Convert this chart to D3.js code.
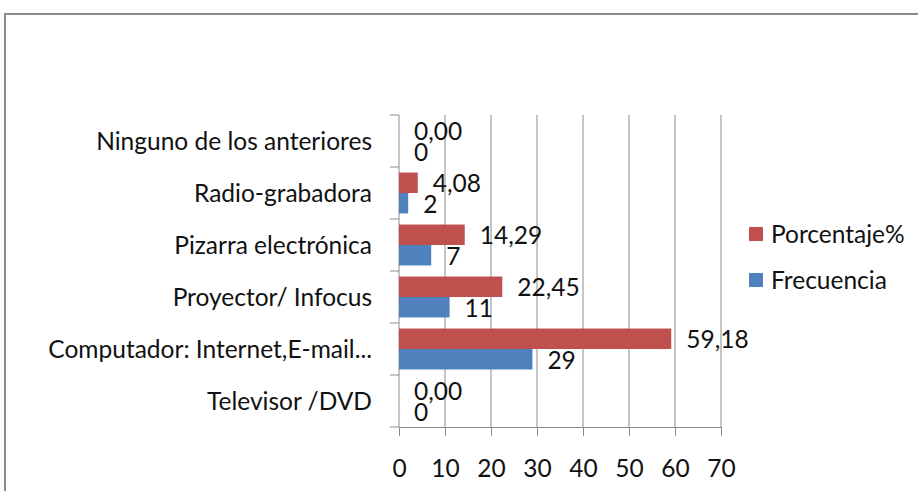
<!DOCTYPE html>
<html>
<head>
<meta charset="utf-8">
<script src="https://cdn.jsdelivr.net/npm/d3@7"></script>
<style>
  body { margin: 0; background: #fff; }
  text { font-family: Lato, "Open Sans", sans-serif; fill: #111; }
</style>
</head>
<body>
<script>
// categories, top to bottom as drawn
let categories = ["Ninguno de los anteriores", "Radio-grabadora", "Pizarra electrónica",
                  "Proyector/ Infocus", "Computador: Internet,E-mail...", "Televisor /DVD"];
let porcentaje = [0, 4.08, 14.29, 22.45, 59.18, 0];
let frecuencia = [0, 2, 7, 11, 29, 0];
let porcentajeLabels = ["0,00", "4,08", "14,29", "22,45", "59,18", "0,00"];
let frecuenciaLabels = ["0", "2", "7", "11", "29", "0"];
let xTicks = [0, 10, 20, 30, 40, 50, 60, 70];
let seriesNames = ["Porcentaje%", "Frecuencia"];

let W = 918, H = 491;
let svg = d3.select("body").append("svg")
  .attr("width", W)
  .attr("height", H);

// outer frame (runs off right/bottom like the original)
svg.append("rect")
  .attr("x", 5).attr("y", 14)
  .attr("width", W + 10).attr("height", H + 10)
  .attr("fill", "none")
  .attr("stroke", "#8a8a8a")
  .attr("stroke-width", 2);

let x = d3.scaleLinear().domain([0, 70]).range([399, 721]);
let y = d3.scaleBand().domain(categories).range([115, 427]);
let inner = d3.scaleBand().domain(seriesNames).range([0, y.bandwidth()]).paddingOuter(0.27);

let fontSize = 24.5;

// gridlines
svg.append("g")
  .selectAll("line")
  .data(xTicks.slice(1))
  .join("line")
  .attr("x1", d => x(d)).attr("x2", d => x(d))
  .attr("y1", 115).attr("y2", 427)
  .attr("stroke", "#8c8c8c");

// x axis
let xAxis = svg.append("g")
  .attr("transform", "translate(0,427)")
  .call(d3.axisBottom(x).tickValues(xTicks).tickSize(9).tickPadding(24).tickFormat(d3.format("d")));
xAxis.select(".domain").attr("stroke", "#8c8c8c");
xAxis.selectAll(".tick line").attr("stroke", "#8c8c8c");
xAxis.selectAll("text").attr("font-size", fontSize).attr("font-family", "Lato").attr("fill", "#111");

// y axis, ticks between categories
let yAxis = svg.append("g").attr("transform", "translate(399,0)");
yAxis.append("line")
  .attr("x1", 0).attr("x2", 0).attr("y1", 115).attr("y2", 427)
  .attr("stroke", "#8c8c8c");
yAxis.selectAll("line.tk")
  .data(d3.range(categories.length + 1))
  .join("line")
  .attr("class", "tk")
  .attr("x1", -9).attr("x2", 0)
  .attr("y1", i => 115 + i * y.bandwidth()).attr("y2", i => 115 + i * y.bandwidth())
  .attr("stroke", "#8c8c8c");
yAxis.selectAll("text")
  .data(categories)
  .join("text")
  .attr("x", -27)
  .attr("y", d => y(d) + y.bandwidth() / 2)
  .attr("dy", "0.35em")
  .attr("text-anchor", "end")
  .attr("font-size", fontSize)
  .text(d => d);

let colors = { "Porcentaje%": "#C0504D", "Frecuencia": "#4F81BD" };
let seriesData = [
  { name: "Porcentaje%", values: porcentaje, labels: porcentajeLabels },
  { name: "Frecuencia", values: frecuencia, labels: frecuenciaLabels }
];

seriesData.forEach(s => {
  let g = svg.append("g");
  g.selectAll("rect")
    .data(categories)
    .join("rect")
    .attr("x", x(0))
    .attr("y", (c) => y(c) + inner(s.name))
    .attr("width", (c, i) => x(s.values[i]) - x(0))
    .attr("height", inner.bandwidth())
    .attr("fill", colors[s.name]);
  g.selectAll("text")
    .data(categories)
    .join("text")
    .attr("x", (c, i) => x(s.values[i]) + 15)
    .attr("y", (c) => y(c) + inner(s.name) + inner.bandwidth() / 2 + 1)
    .attr("dy", "0.35em")
    .attr("font-size", fontSize)
    .text((c, i) => s.labels[i]);
});

// legend
let legend = svg.append("g");
seriesNames.forEach((n, i) => {
  let ly = 234 + i * 46;
  legend.append("rect")
    .attr("x", 749).attr("y", ly - 7)
    .attr("width", 14).attr("height", 14)
    .attr("fill", colors[n]);
  legend.append("text")
    .attr("x", 771).attr("y", ly)
    .attr("dy", "0.35em")
    .attr("font-size", fontSize)
    .text(n);
});
</script>
</body>
</html>
